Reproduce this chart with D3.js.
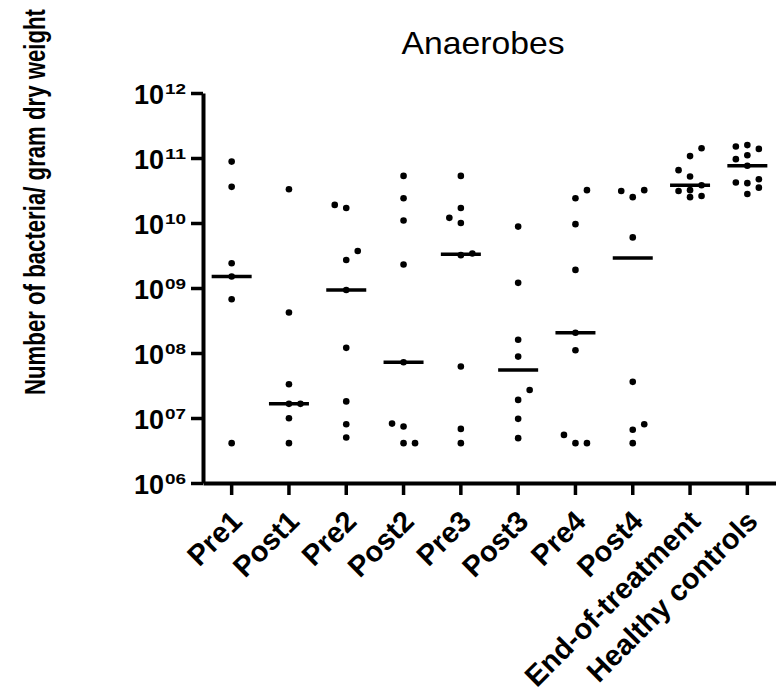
<!DOCTYPE html>
<html>
<head>
<meta charset="utf-8">
<script src="https://cdn.jsdelivr.net/npm/d3@7"></script>
<style>
  body { margin: 0; background: #fff; }
  svg { font-family: "Liberation Sans", Arial, sans-serif; }
</style>
</head>
<body>
<svg id="chart" width="776" height="692"></svg>
<script>
// groups along the x axis
var categories = ["Pre1", "Post1", "Pre2", "Post2", "Pre3", "Post3", "Pre4", "Post4", "End-of-treatment", "Healthy controls"];

// bacteria per gram dry weight
var pre1 = [8.8e10, 3.6e10, 2.4e9, 1.5e9, 6.7e8, 4.1e6];
var post1 = [3.3e10, 4.2e8, 3.3e7, 1.65e7, 1.65e7, 9.9e6, 4.1e6];
var pre2 = [1.9e10, 1.7e10, 3.7e9, 2.7e9, 9.3e8, 1.2e8, 1.8e7, 8.0e6, 5.0e6];
var post2 = [5.3e10, 2.4e10, 1.09e10, 2.3e9, 7.2e7, 8.2e6, 7.4e6, 4.1e6, 4.1e6];
var pre3 = [5.3e10, 1.7e10, 1.2e10, 1.0e10, 3.4e9, 3.2e9, 6.2e7, 6.8e6, 4.1e6];
var post3 = [8.8e9, 1.2e9, 1.6e8, 8.8e7, 2.7e7, 1.9e7, 9.7e6, 4.9e6];
var pre4 = [3.2e10, 2.4e10, 9.6e9, 1.9e9, 2.05e8, 1.1e8, 5.5e6, 4.1e6, 4.1e6];
var post4 = [3.2e10, 3.1e10, 2.5e10, 6.0e9, 3.6e7, 8.0e6, 6.6e6, 4.1e6];
var endOfTreatment = [1.41e11, 1.07e11, 6.5e10, 5.2e10, 3.8e10, 3.2e10, 3.1e10, 2.6e10, 2.5e10];
var healthy = [1.58e11, 1.5e11, 1.38e11, 1.1e11, 9.6e10, 7.6e10, 4.7e10, 4.2e10, 4.1e10, 3.5e10, 2.8e10];

var medians = [1.5e9, 1.65e7, 9.3e8, 7.2e7, 3.3e9, 5.5e7, 2.05e8, 2.9e9, 3.8e10, 7.6e10];

var yTicks = [1e6, 1e7, 1e8, 1e9, 1e10, 1e11, 1e12];
var yTickExp = ["06", "07", "08", "09", "10", "11", "12"];

var groups = [pre1, post1, pre2, post2, pre3, post3, pre4, post4, endOfTreatment, healthy];

var svg = d3.select("#chart");

var x = d3.scaleBand()
    .domain(categories)
    .range([203, 776]);

var y = d3.scaleLog()
    .domain([1e6, 1e12])
    .range([483, 93]);

// title
svg.append("text")
    .attr("x", 483)
    .attr("y", 54)
    .attr("text-anchor", "middle")
    .attr("font-size", 32)
    .attr("textLength", 163)
    .attr("lengthAdjust", "spacingAndGlyphs")
    .text("Anaerobes");

// y axis label (squeezed along its length like the original)
svg.append("text")
    .attr("transform", "translate(45,202) rotate(-90) scale(0.925,1.22)")
    .attr("text-anchor", "middle")
    .attr("font-size", 24)
    .attr("font-weight", "bold")
    .text("Number of bacteria/ gram dry weight");

// y axis
var yAxis = svg.append("g")
    .attr("transform", "translate(203,0)")
    .call(d3.axisLeft(y).tickValues(yTicks).tickSize(12).tickSizeOuter(0).tickFormat(function() { return ""; }));

yAxis.select(".domain").attr("stroke-width", 4);
yAxis.selectAll(".tick line").attr("stroke-width", 3.5);

yAxis.selectAll(".tick").each(function(d, i) {
  var t = d3.select(this);
  t.append("text")
      .attr("x", -39)
      .attr("y", 10)
      .attr("text-anchor", "end")
      .attr("fill", "#000")
      .attr("font-size", 27)
      .attr("font-weight", "bold")
      .text("10");
  t.append("text")
      .attr("x", -38)
      .attr("y", 0)
      .attr("text-anchor", "start")
      .attr("fill", "#000")
      .attr("font-size", 15)
      .attr("font-weight", "bold")
      .attr("textLength", 21)
      .attr("lengthAdjust", "spacingAndGlyphs")
      .text(yTickExp[i]);
});

// x axis
var xAxis = svg.append("g")
    .attr("transform", "translate(0,483)")
    .call(d3.axisBottom(x).tickSize(12).tickSizeOuter(0));

xAxis.select(".domain").attr("stroke-width", 4);
xAxis.selectAll(".tick line").attr("stroke-width", 3.5);
xAxis.selectAll(".tick text")
    .attr("font-size", 29)
    .attr("font-weight", "bold")
    .attr("fill", "#000")
    .attr("text-anchor", "end")
    .attr("dy", null)
    .attr("y", 0)
    .attr("transform", "translate(12,40) rotate(-45)");

// spread overlapping dots sideways, like a column scatter
var step = 11.5;
function spread(values) {
  var pts = values.map(function(v) { return { v: v, py: y(v) }; })
      .sort(function(a, b) { return a.v - b.v; });
  var placed = [];
  var side = 1;
  pts.forEach(function(p) {
    var order = [0, side, -side];
    var best = null, bestGap = -1;
    for (var k = 0; k < order.length; k++) {
      var s = order[k];
      var gap = d3.min(placed.filter(function(q) { return q.slot === s; }),
          function(q) { return Math.abs(q.py - p.py); });
      if (gap === undefined) gap = Infinity;
      if (gap >= 10) { best = s; break; }
      if (gap > bestGap) { bestGap = gap; best = s; }
    }
    p.slot = best;
    if (best !== 0) side = -side;
    placed.push(p);
  });
  return placed;
}

var cols = svg.selectAll(".col")
    .data(groups)
  .enter().append("g")
    .attr("class", "col")
    .attr("transform", function(d, i) { return "translate(" + (x(categories[i]) + x.bandwidth() / 2) + ",0)"; });

cols.selectAll("circle")
    .data(function(d) { return spread(d); })
  .enter().append("circle")
    .attr("cx", function(d) { return d.slot * step; })
    .attr("cy", function(d) { return y(d.v); })
    .attr("r", 3.3)
    .attr("fill", "#000");

cols.append("line")
    .attr("x1", -20)
    .attr("x2", 20)
    .attr("y1", function(d, i) { return y(medians[i]); })
    .attr("y2", function(d, i) { return y(medians[i]); })
    .attr("stroke", "#000")
    .attr("stroke-width", 3.5);
</script>
</body>
</html>
